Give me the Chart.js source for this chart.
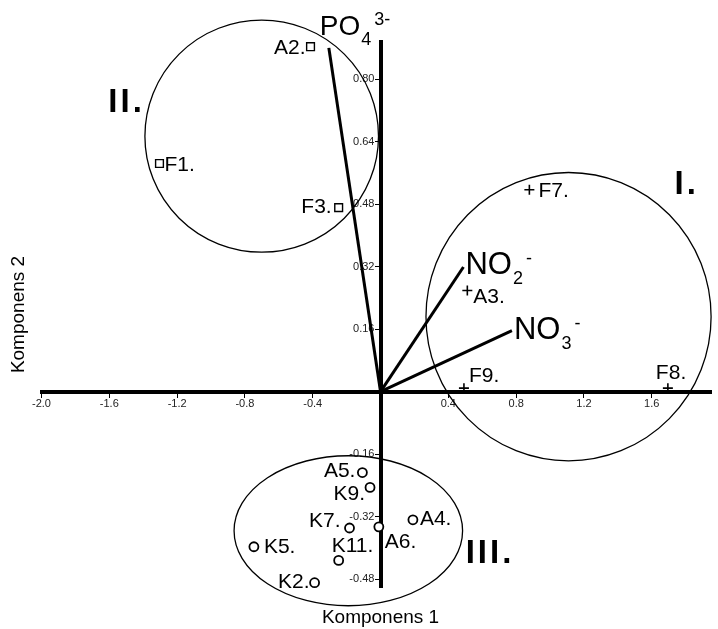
<!DOCTYPE html>
<html>
<head>
<meta charset="utf-8">
<script src="https://cdn.jsdelivr.net/npm/chart.js@4.4.1/dist/chart.umd.min.js"></script>
<style>
  html, body { margin: 0; padding: 0; background: #fff; }
  #wrap { width: 718px; height: 629px; }
</style>
</head>
<body>
<div id="wrap"><canvas id="chart" width="718" height="629"></canvas></div>
<script>
// tick labels on both axes (0 is left blank)
const xTicks = [-2.0, -1.6, -1.2, -0.8, -0.4, 0.4, 0.8, 1.2, 1.6];
const yTicks = [-0.48, -0.32, -0.16, 0.16, 0.32, 0.48, 0.64, 0.80];

// group II samples (squares)
const group2Names = ['A2.', 'F1.', 'F3.'];
const group2X = [-0.413, -1.304, -0.247];
const group2Y = [0.883, 0.584, 0.471];

// group I samples (plus)
const group1Names = ['F7.', 'A3.', 'F9.', 'F8.'];
const group1X = [0.878, 0.512, 0.492, 1.695];
const group1Y = [0.517, 0.259, 0.009, 0.009];

// group III samples (circles)
const group3Names = ['A5.', 'K9.', 'K7.', 'A6.', 'A4.', 'K5.', 'K11.', 'K2.'];
const group3X = [-0.107, -0.062, -0.183, -0.010, 0.191, -0.747, -0.247, -0.389];
const group3Y = [-0.207, -0.245, -0.349, -0.346, -0.328, -0.397, -0.432, -0.489];

// loading vectors
const vectorNames = ['PO4', 'NO2', 'NO3'];
const vectorX = [-0.305, 0.489, 0.775];
const vectorY = [0.880, 0.319, 0.156];

// cluster outlines, centre and radii in axis units
const clusterNames = ['I.', 'II.', 'III.'];
const clusterCx = [1.109, -0.701, -0.190];
const clusterCy = [0.192, 0.654, -0.356];
const clusterRx = [0.841, 0.689, 0.674];
const clusterRy = [0.369, 0.297, 0.192];

// ---- styling / placement below ----
const FONT = '"Liberation Sans", Arial, sans-serif';

// where the roman numerals sit (axis units)
const numeralPos = { 'I.': [1.734, 0.505], 'II.': [-1.606, 0.715], 'III.': [0.502, -0.438] };

// label offset from its marker in px: [dx, dy, align]
const labelOffset = {
  'A2.': [-5, 7, 'right'], 'F1.': [5, 7, 'left'], 'F3.': [-7, 5, 'right'],
  'F7.': [9, 7, 'left'], 'A3.': [6, 13, 'left'], 'F9.': [5, -6, 'left'], 'F8.': [-12, -9, 'left'],
  'A5.': [-7, 4, 'right'], 'K9.': [-5, 13, 'right'], 'K7.': [-9, -1, 'right'], 'A6.': [6, 21, 'left'],
  'A4.': [7, 5, 'left'], 'K5.': [10, 6, 'left'], 'K11.': [-7, -8, 'left'], 'K2.': [-5, 5, 'right']
};

// vector label parts [base, subscript, superscript], offset from the tip, font size
const vectorText = { PO4: ['PO', '4', '3-'], NO2: ['NO', '2', '-'], NO3: ['NO', '3', '-'] };
const vectorOffset = { PO4: [-9, -13, 28], NO2: [2, 7, 31], NO3: [2, 8, 31] };

const pts = (xs, ys) => xs.map((x, i) => ({ x, y: ys[i] }));

const annotate = {
  id: 'annotate',
  afterDatasetsDraw(chart) {
    const { ctx, scales: { x, y } } = chart;
    ctx.save();
    ctx.strokeStyle = '#000';
    ctx.fillStyle = '#000';

    // cluster outlines + numerals
    clusterNames.forEach((n, i) => {
      const cx = x.getPixelForValue(clusterCx[i]);
      const cy = y.getPixelForValue(clusterCy[i]);
      const rx = Math.abs(x.getPixelForValue(clusterCx[i] + clusterRx[i]) - cx);
      const ry = Math.abs(y.getPixelForValue(clusterCy[i] + clusterRy[i]) - cy);
      ctx.lineWidth = 1.3;
      ctx.beginPath();
      ctx.ellipse(cx, cy, rx, ry, 0, 0, Math.PI * 2);
      ctx.stroke();
      ctx.font = 'bold 33px ' + FONT;
      ctx.letterSpacing = '3px';
      ctx.textAlign = 'left';
      ctx.textBaseline = 'alphabetic';
      const p = numeralPos[n];
      ctx.fillText(n, x.getPixelForValue(p[0]), y.getPixelForValue(p[1]));
    });
    ctx.letterSpacing = '0px';

    // sample labels
    ctx.font = '21px ' + FONT;
    const put = (names, xs, ys) => names.forEach((n, i) => {
      const o = labelOffset[n];
      ctx.textAlign = o[2];
      ctx.fillText(n, x.getPixelForValue(xs[i]) + o[0], y.getPixelForValue(ys[i]) + o[1]);
    });
    put(group2Names, group2X, group2Y);
    put(group1Names, group1X, group1Y);
    put(group3Names, group3X, group3Y);

    // vector labels with sub/superscripts
    ctx.textAlign = 'left';
    vectorNames.forEach((n, i) => {
      const [base, sub, sup] = vectorText[n];
      const o = vectorOffset[n];
      let px = x.getPixelForValue(vectorX[i]) + o[0];
      const py = y.getPixelForValue(vectorY[i]) + o[1];
      ctx.font = o[2] + 'px ' + FONT;
      ctx.fillText(base, px, py);
      px += ctx.measureText(base).width + 1;
      ctx.font = '18px ' + FONT;
      ctx.fillText(sub, px, py + 10);
      px += ctx.measureText(sub).width + 3;
      ctx.fillText(sup, px, py - 10);
    });

    // axis titles
    ctx.font = '19px ' + FONT;
    ctx.textAlign = 'center';
    ctx.fillText('Komponens 1', x.getPixelForValue(0), 623);
    ctx.translate(24, (chart.chartArea.top + chart.chartArea.bottom) / 2);
    ctx.rotate(-Math.PI / 2);
    ctx.fillText('Komponens 2', 0, 0);
    ctx.restore();
  }
};

const axisCommon = {
  type: 'linear',
  grid: { display: true, drawOnChartArea: false, drawTicks: true, tickLength: 4, color: '#000', lineWidth: 1 },
  border: { display: true, color: '#000', width: 4 },
};

new Chart(document.getElementById('chart'), {
  type: 'scatter',
  data: {
    datasets: [
      {
        label: 'II', data: pts(group2X, group2Y), pointStyle: 'rect', pointRadius: 5.5,
        borderColor: '#000', backgroundColor: '#fff', borderWidth: 1.4, clip: false
      },
      {
        label: 'I', data: pts(group1X, group1Y), pointStyle: 'cross', pointRadius: 5,
        borderColor: '#000', backgroundColor: '#000', borderWidth: 1.6, clip: false
      },
      {
        label: 'III', data: pts(group3X, group3Y), pointStyle: 'circle', pointRadius: 4.5,
        borderColor: '#000', backgroundColor: '#fff', borderWidth: 1.8, clip: false
      },
      ...vectorNames.map((n, i) => ({
        label: n, data: [{ x: 0, y: 0 }, { x: vectorX[i], y: vectorY[i] }],
        showLine: true, borderColor: '#000', borderWidth: 3, pointRadius: 0, clip: false
      }))
    ]
  },
  options: {
    responsive: false,
    animation: false,
    devicePixelRatio: 1,
    layout: { padding: { left: 41.5, right: 0, top: 42, bottom: 42 } },
    plugins: { legend: { display: false }, tooltip: { enabled: false } },
    scales: {
      x: {
        ...axisCommon,
        position: { y: 0 },
        min: -2.0, max: 1.95,
        afterFit: s => { s.height = 0; },
        afterBuildTicks: s => { s.ticks = xTicks.map(v => ({ value: v })); },
        ticks: {
          color: '#222', font: { family: FONT, size: 11 }, padding: 2,
          autoSkip: false, maxRotation: 0, callback: v => v.toFixed(1)
        }
      },
      y: {
        ...axisCommon,
        position: { x: 0 },
        min: -0.50, max: 0.895,
        afterFit: s => { s.width = 0; },
        afterBuildTicks: s => { s.ticks = yTicks.map(v => ({ value: v })); },
        ticks: {
          color: '#222', font: { family: FONT, size: 11 }, padding: 1,
          // labels sit flush on the axis line here, two spaces push them left of it
          autoSkip: false, callback: v => v.toFixed(2) + '  '
        }
      }
    }
  },
  plugins: [annotate]
});
</script>
</body>
</html>
